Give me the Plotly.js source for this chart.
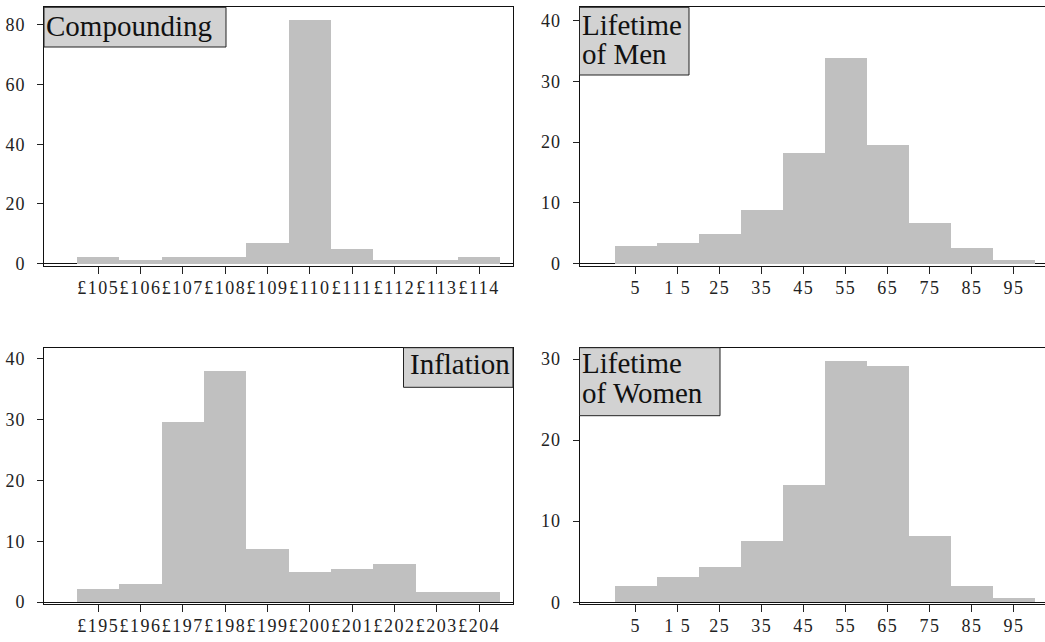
<!DOCTYPE html>
<html>
<head>
<meta charset="utf-8">
<script src="https://cdn.plot.ly/plotly-3.0.1.min.js"></script>
<style>
html,body{margin:0;padding:0;background:#fff;}
#chart{width:1045px;height:642px;}
.xtick text,.x2tick text,.x3tick text,.x4tick text{letter-spacing:1.5px;}
.ytick text,.y2tick text,.y3tick text,.y4tick text{letter-spacing:1px;}
</style>
</head>
<body>
<div id="chart"></div>
<script>
// ---- Data ----
const compoundingX = [105, 106, 107, 108, 109, 110, 111, 112, 113, 114];
const compoundingLabels = ["£105","£106","£107","£108","£109","£110","£111","£112","£113","£114"];
const compoundingY = [2.2, 1.3, 2.2, 2.1, 7.0, 81.6, 5.0, 1.3, 1.2, 2.2];

const inflationX = [195, 196, 197, 198, 199, 200, 201, 202, 203, 204];
const inflationLabels = ["£195","£196","£197","£198","£199","£200","£201","£202","£203","£204"];
const inflationY = [2.1, 3.0, 29.6, 37.9, 8.7, 4.9, 5.4, 6.3, 1.6, 1.6];

const ageX = [5, 15, 25, 35, 45, 55, 65, 75, 85, 95];
const ageLabels = ["5","1 5","25","35","45","55","65","75","85","95"];
const menY = [2.9, 3.4, 4.8, 8.9, 18.2, 33.9, 19.6, 6.7, 2.5, 0.6];
const womenY = [2.0, 3.1, 4.4, 7.5, 14.5, 29.8, 29.1, 8.2, 2.0, 0.5];

// ---- Styling ----
const W = 1045, H = 642;
const px = v => v / W;
const py = v => 1 - v / H;
const barColor = "#c0c0c0";
const boxFill = "#d2d2d2";
const serif = "Liberation Serif, DejaVu Serif, serif";
const tickFont = {family: serif, size: 18, color: "#222"};

function bar(x, y, xa, ya, width) {
  return {type: "bar", x: x, y: y, xaxis: xa, yaxis: ya, width: width,
    marker: {color: barColor, line: {width: 0}}, hoverinfo: "skip", showlegend: false};
}

const traces = [
  bar(compoundingX, compoundingY, "x", "y", 1),
  bar(ageX, menY, "x2", "y2", 10),
  bar(inflationX, inflationY, "x3", "y3", 1),
  bar(ageX, womenY, "x4", "y4", 10)
];

function xaxis(domain, range, vals, text, anchor) {
  return {domain: domain, range: range, anchor: anchor, tickmode: "array", tickvals: vals, ticktext: text,
    ticks: "outside", ticklen: 7, tickcolor: "#222", tickfont: tickFont, ticklabelstandoff: -2,
    showline: true, linecolor: "#111", linewidth: 1, mirror: true,
    showgrid: false, zeroline: false, fixedrange: true};
}
function yaxis(domain, range, vals, anchor, mirror) {
  return {domain: domain, range: range, anchor: anchor, tickmode: "array", tickvals: vals,
    ticks: "outside", ticklen: 6, tickcolor: "#222", tickfont: tickFont, ticklabelstandoff: 8,
    showline: true, linecolor: "#111", linewidth: 1, mirror: mirror,
    showgrid: false, zeroline: true, zerolinecolor: "#111", zerolinewidth: 1, fixedrange: true};
}

const topDom = [py(266), py(7.3)];
const botDom = [py(604), py(347.7)];
const leftDom = [px(44), px(513)];
const rightDom = [px(579.5), 1];

const layout = {
  width: W, height: H,
  margin: {l: 0, r: 0, t: 0, b: 0},
  paper_bgcolor: "#fff", plot_bgcolor: "#fff",
  bargap: 0,
  showlegend: false,
  xaxis: xaxis(leftDom, [103.72, 114.8], compoundingX, compoundingLabels, "y"),
  yaxis: yaxis(topDom, [-0.8, 85.9], [0, 20, 40, 60, 80], "x", true),
  xaxis2: xaxis(rightDom, [-8.4, 102.4], ageX, ageLabels, "y2"),
  yaxis2: yaxis(topDom, [-0.4, 42.2], [0, 10, 20, 30, 40], "x2", false),
  xaxis3: xaxis(leftDom, [193.72, 204.8], inflationX, inflationLabels, "y3"),
  yaxis3: yaxis(botDom, [-0.3, 41.8], [0, 10, 20, 30, 40], "x3", true),
  xaxis4: xaxis(rightDom, [-8.4, 102.4], ageX, ageLabels, "y4"),
  yaxis4: yaxis(botDom, [-0.22, 31.4], [0, 10, 20, 30], "x4", false),
  shapes: [
    {type: "rect", xref: "paper", yref: "paper", x0: px(44), x1: px(226), y0: py(47), y1: py(7.3),
      fillcolor: boxFill, line: {color: "#222", width: 1}},
    {type: "rect", xref: "paper", yref: "paper", x0: px(579.5), x1: px(689), y0: py(75), y1: py(7.3),
      fillcolor: boxFill, line: {color: "#222", width: 1}},
    {type: "rect", xref: "paper", yref: "paper", x0: px(403.5), x1: px(513), y0: py(387.3), y1: py(347.7),
      fillcolor: boxFill, line: {color: "#222", width: 1}},
    {type: "rect", xref: "paper", yref: "paper", x0: px(579.5), x1: px(720), y0: py(415.7), y1: py(347.7),
      fillcolor: boxFill, line: {color: "#222", width: 1}}
  ],
  annotations: []
};

function label(text, x, y, anchor) {
  return {text: text, xref: "paper", yref: "paper", x: px(x), y: py(y), xanchor: anchor || "left", yanchor: "middle",
    showarrow: false, font: {family: serif, size: 29, color: "#111"}};
}
layout.annotations.push(label("Compounding", 44, 26));
layout.annotations.push(label("Lifetime", 580, 25));
layout.annotations.push(label("of Men", 580, 54));
layout.annotations.push(label("Inflation", 512, 364, "right"));
layout.annotations.push(label("Lifetime", 580, 363));
layout.annotations.push(label("of Women", 580, 393));

Plotly.newPlot("chart", traces, layout, {staticPlot: true, displayModeBar: false});
</script>
</body>
</html>
